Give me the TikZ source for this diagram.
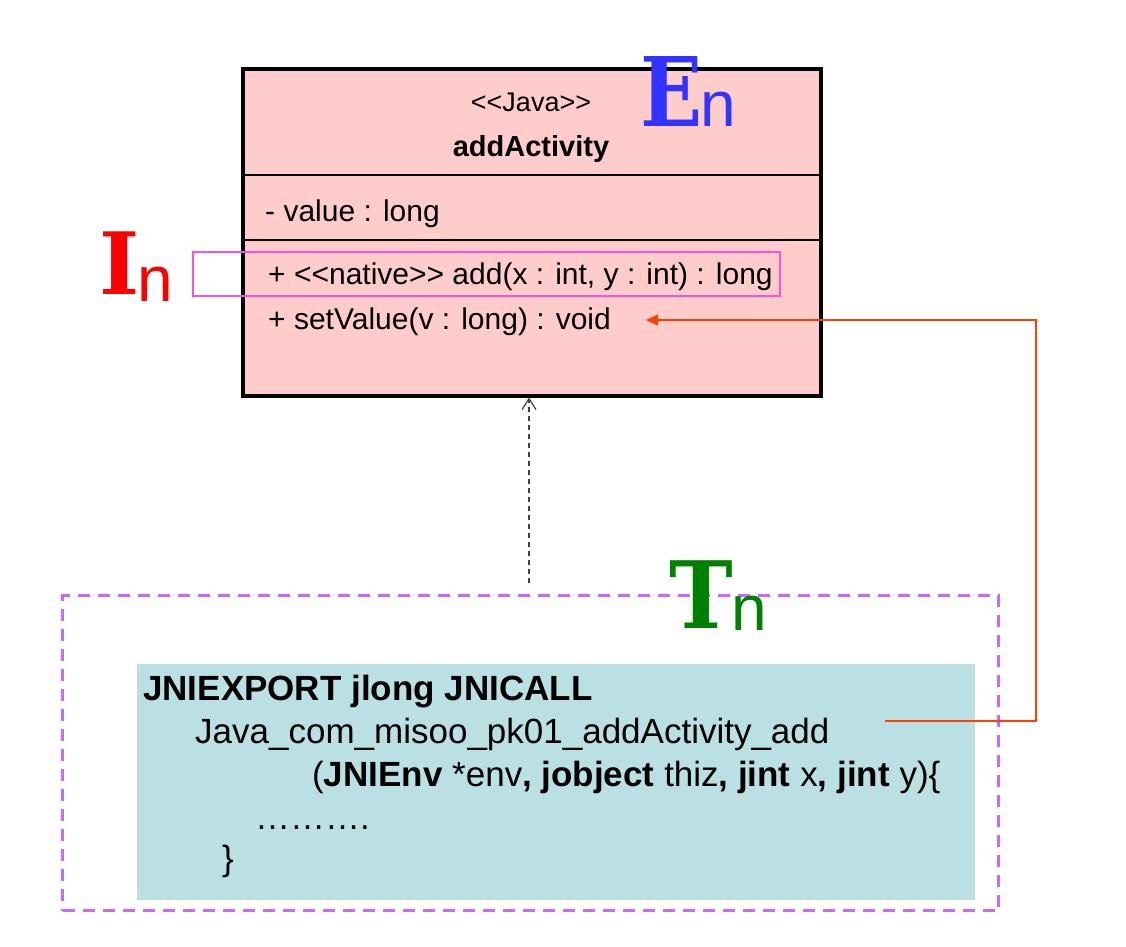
\documentclass[tikz,border=0pt]{standalone}
\usepackage{fontspec}
\setmainfont{Liberation Sans}
\newfontfamily\letterfont{DejaVu Serif}
\usetikzlibrary{arrows.meta,positioning}
\definecolor{classpink}{RGB}{255,204,204}
\definecolor{codeteal}{RGB}{187,224,227}
\definecolor{framepurple}{RGB}{204,102,255}
\definecolor{hilite}{RGB}{255,80,220}
\definecolor{linkred}{RGB}{255,64,0}
\definecolor{letterblue}{RGB}{51,51,255}
\definecolor{lettergreen}{RGB}{0,128,0}

\begin{document}
\begin{tikzpicture}[x=1pt,y=-1pt,>=Stealth,
    box/.style={rectangle,inner sep=0pt,anchor=north west},
    uml text/.style={inner sep=0pt,anchor=base west,font=\fontsize{30}{36}\selectfont},
    code text/.style={inner sep=0pt,anchor=base west,font=\fontsize{35}{42}\selectfont},
    big letter/.style={inner sep=0pt,anchor=base west,font=\letterfont\bfseries},
    sub letter/.style={inner sep=0pt,anchor=base west,font=\fontsize{64}{70}\selectfont}]

    \useasboundingbox (0,0) rectangle (1126,946);

    % class box
    \node[box,draw,line width=3.5pt,fill=classpink,minimum width=578pt,minimum height=327pt] (class) at (241,67) {};
    \draw[line width=2pt] (class.west |- 0,175) -- (class.east |- 0,175);
    \draw[line width=2pt] (class.west |- 0,240) -- (class.east |- 0,240);

    \node[uml text,anchor=base,font=\fontsize{27}{32}\selectfont] (stereo) at (531,111) {<{}<Java>{}>};
    \node[uml text,anchor=base,font=\bfseries\fontsize{29}{34}\selectfont] (name) at (531,156) {addActivity};
    \node[uml text] (attr) at (265,221) {- value : long};
    \node[uml text] (native) at (268,284) {+ <{}<native>{}> add(x : int, y : int) : long};
    \node[uml text] (setv) at (268,329) {+ setValue(v : long) : void};

    \node[box,draw=hilite,line width=1.5pt,minimum width=587pt,minimum height=44pt] (mark) at (192,251) {};

    % letters
    \node[big letter,text=red,font=\letterfont\bfseries\fontsize{86}{90}\selectfont] (I) at (99,294) {I};
    \node[sub letter,text=red] (In) at (137,301) {n};
    \node[big letter,text=letterblue,font=\letterfont\bfseries\fontsize{96}{100}\selectfont] (E) at (640,126) {\scalebox{0.85}[1]{E}};
    \node[sub letter,text=letterblue] (En) at (700,126) {n};

    % native code
    \node[box,draw=framepurple,line width=3pt,dash pattern=on 12pt off 8pt,minimum width=936pt,minimum height=315pt] (frame) at (61,594) {};
    \node[box,fill=codeteal,minimum width=838pt,minimum height=236pt] (code) at (137,664) {};
    \node[big letter,text=lettergreen,font=\letterfont\bfseries\fontsize{93}{98}\selectfont] (T) at (669,628) {\scalebox{0.92}[1]{T}};
    \node[sub letter,text=lettergreen] (Tn) at (731,630) {n};

    \node[code text] (l1) at (143,700) {\textbf{JNIEXPORT jlong JNICALL}};
    \node[code text] (l2) at (195,743) {Java\_com\_misoo\_pk01\_addActivity\_add};
    \node[code text] (l3) at (312,786) {(\textbf{JNIEnv} *env\textbf{,} \textbf{jobject} thiz\textbf{,} \textbf{jint} x\textbf{,} \textbf{jint} y)\{};
    \node[code text] (l4) at (255,829) {……….};
    \node[code text] (l5) at (222,870) {\}};

    % connectors
    \coordinate (impl) at (529,583);
    \draw[dash pattern=on 5pt off 4pt,line width=1.2pt,draw=black!75,-{Straight Barb[length=11pt,width=14pt]}] (impl) -- (impl |- class.south);

    \coordinate (linkstart) at (885,721);
    \coordinate (linkturn) at (1036,721);
    \coordinate (linkup) at (1036,320);
    \coordinate (linkend) at (646,320);
    \draw[linkred,line width=1.5pt,-{Triangle[length=12pt,width=11pt]}] (linkstart) -- (linkturn) -- (linkup) -- (linkend);
\end{tikzpicture}
\end{document}
